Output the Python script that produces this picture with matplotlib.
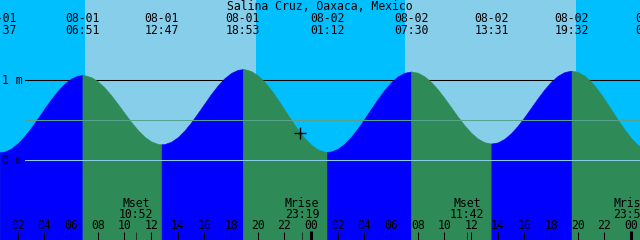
import matplotlib
matplotlib.use("Agg")
import matplotlib.pyplot as plt
import numpy as np

plt.rcParams["font.family"] = ["DejaVu Sans Mono"]

TITLE = "Salina Cruz, Oaxaca, Mexico"

# tide extremes (local time), heights in metres
tide_dates = ["08-01", "08-01", "08-01", "08-01", "08-02", "08-02", "08-02", "08-02", "08-03"]
tide_times = ["00:37", "06:51", "12:47", "18:53", "01:12", "07:30", "13:31", "19:32", "01:38"]
tide_heights = [0.09, 1.055, 0.19, 1.13, 0.095, 1.10, 0.20, 1.11, 0.10]

# water level, every half hour from 08-01 00:00
curve_step = 0.5
curve_heights = [
    0.114, 0.090, 0.099, 0.137, 0.203, 0.292, 0.398, 0.516, 0.637, 0.754,
    0.860, 0.947, 1.012, 1.048, 1.054, 1.030, 0.977, 0.900, 0.804, 0.695,
    0.581, 0.470, 0.369, 0.286, 0.227, 0.195, 0.193, 0.222, 0.279, 0.362,
    0.464, 0.580, 0.700, 0.819, 0.926, 1.016, 1.082, 1.121, 1.129, 1.106,
    1.052, 0.971, 0.869, 0.750, 0.623, 0.495, 0.376, 0.270, 0.185, 0.126,
    0.098, 0.101, 0.135, 0.197, 0.284, 0.391, 0.510, 0.635, 0.758, 0.870,
    0.966, 1.039, 1.084, 1.100, 1.085, 1.040, 0.969, 0.876, 0.768, 0.652,
    0.536, 0.428, 0.334, 0.262, 0.216, 0.200, 0.214, 0.259, 0.330, 0.423,
    0.532, 0.649, 0.767, 0.877, 0.972, 1.046, 1.093, 1.110, 1.095, 1.049,
    0.973, 0.872, 0.754, 0.627, 0.497, 0.376, 0.268, 0.183, 0.127, 0.100,
]

sun_dates = ["08-01", "08-01", "08-02", "08-02"]
sun_times = ["07:02", "19:52", "07:02", "19:52"]
sun_kinds = ["rise", "set", "rise", "set"]

moon_dates = ["08-01", "08-01", "08-02", "08-02"]
moon_times = ["10:52", "23:19", "11:42", "23:56"]
moon_labels = ["Mset", "Mrise", "Mset", "Mrise"]

level_marks = [1.0, 0.49, 0.0]
level_labels = ["1 m", None, "0 m"]

now_hour, now_height = 23.17, 0.33
start_hour, span_hours = 0.667, 48.0

NIGHT = "#00bfff"
DAY = "#87ceeb"
RISING = "#0000ff"
FALLING = "#2e8b57"
FS = 8.3


def to_hours(date, hhmm):
    day = int(date[3:]) - 1
    h, m = hhmm.split(":")
    return day * 24 + int(h) + int(m) / 60


fig = plt.figure(figsize=(6.4, 2.4), dpi=100)
ax = fig.add_axes([0, 0, 1, 1])
x0, x1 = start_hour, start_hour + span_hours
ax.set_xlim(x0, x1)
ax.set_ylim(-1.00625, 1.99375)
ax.axis("off")
xt = ax.get_xaxis_transform()

# sky: night / day bands
sun_h = [to_hours(d, t) for d, t in zip(sun_dates, sun_times)]
edges = [x0] + sun_h + [x1]
kinds = ["set"] + sun_kinds
for a, b, k in zip(edges[:-1], edges[1:], kinds):
    ax.axvspan(a, b, color=DAY if k == "rise" else NIGHT, lw=0, zorder=0)

# 1 m line sits behind the water
ax.axhline(level_marks[0], xmin=25 / 640, color="black", lw=0.75, zorder=1)

# water, coloured by rising / falling
tide_h = [to_hours(d, t) for d, t in zip(tide_dates, tide_times)]
curve_hours = np.arange(len(curve_heights)) * curve_step
t_all = np.concatenate([curve_hours, tide_h])
h_all = np.concatenate([curve_heights, tide_heights])
order = np.argsort(t_all, kind="stable")
t_all, h_all = t_all[order], h_all[order]
for i in range(len(tide_h) - 1):
    m = (t_all >= tide_h[i]) & (t_all <= tide_h[i + 1])
    col = RISING if tide_heights[i + 1] > tide_heights[i] else FALLING
    ax.fill_between(t_all[m], h_all[m], -1.1, facecolor=col, edgecolor=col,
                    lw=0.4, zorder=2)
m = t_all <= tide_h[0]
ax.fill_between(t_all[m], h_all[m], -1.1, facecolor=FALLING, edgecolor=FALLING,
                lw=0.4, zorder=2)

ax.axhline(level_marks[1], xmin=25 / 640, color="#55a38e", lw=0.75, zorder=3)
ax.axhline(level_marks[2], xmin=25 / 640, color="#88cce6", lw=0.75, zorder=3)

for lv, lab in zip(level_marks, level_labels):
    if lab:
        ax.text(2 / 640, lv - 0.052, lab, transform=ax.get_yaxis_transform(),
                fontsize=FS, ha="left", va="baseline", zorder=5)

ax.plot([now_hour], [now_height], marker="+", ms=8, mew=1, color="black", zorder=4)

# top labels
ax.text(0.5, 1 - 9.5 / 240, TITLE, transform=ax.transAxes, ha="center",
        va="baseline", fontsize=FS)
for d, t, h in zip(tide_dates, tide_times, tide_h):
    ax.text(h, 1 - 22 / 240, d, transform=xt, ha="center", va="baseline", fontsize=FS)
    ax.text(h, 1 - 34 / 240, t, transform=xt, ha="center", va="baseline", fontsize=FS)

# bottom: moon events and hour ticks
for d, t, lab in zip(moon_dates, moon_times, moon_labels):
    h = to_hours(d, t)
    ax.text(h, 1 - 206.7 / 240, lab, transform=xt, ha="center", va="baseline", fontsize=FS)
    ax.text(h, 1 - 217.7 / 240, t, transform=xt, ha="center", va="baseline", fontsize=FS)
    ax.vlines(h, 0, 8.3 / 240, transform=xt, color="#202020", lw=0.6, zorder=5)

for hr in range(2, 49, 2):
    ax.text(hr, 1 - 229.3 / 240, "%02d" % (hr % 24), transform=xt, ha="center",
            va="baseline", fontsize=FS)
    thick = hr % 24 == 0
    ax.vlines(hr, 0, (9.3 if thick else 8.3) / 240, transform=xt, color="black",
              lw=2.2 if thick else 0.75, zorder=5)

fig.savefig("out.png", dpi=100)
